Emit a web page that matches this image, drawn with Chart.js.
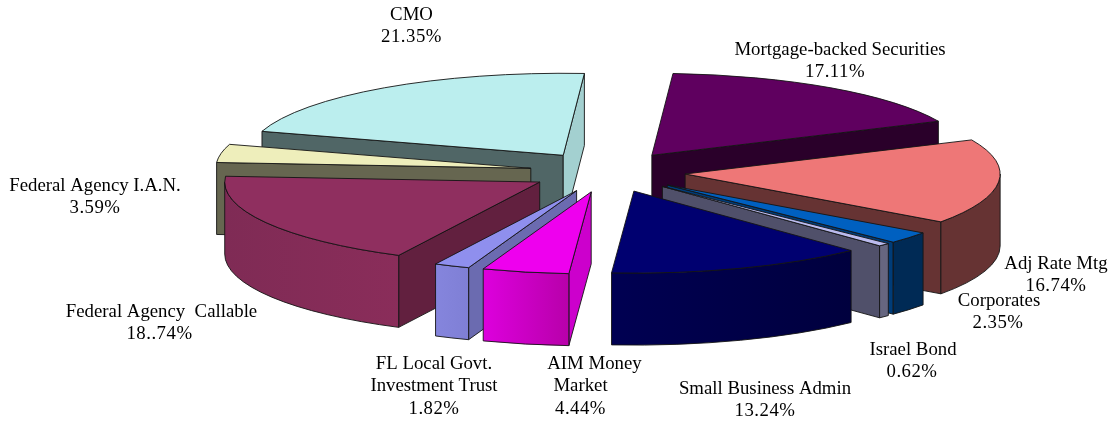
<!DOCTYPE html>
<html>
<head>
<meta charset="utf-8">
<style>
  html, body { margin: 0; padding: 0; background: #fff; }
  canvas { display: block; }
</style>
<script src="https://cdn.jsdelivr.net/npm/chart.js@4"></script>
</head>
<body>
<canvas id="myChart" width="1109" height="421"></canvas>
<script>
//!Data
var categories = ["Mortgage-backed Securities", "Adj Rate Mtg", "Corporates", "Israel Bond", "Small Business Admin",
  "AIM Money Market", "FL Local Govt. Investment Trust", "Federal Agency  Callable", "Federal Agency I.A.N.", "CMO"];
var shares = [17.11, 16.74, 2.35, 0.62, 13.24, 4.44, 1.82, 18.74, 3.59, 21.35];

var labelLines = [
  ["Mortgage-backed Securities", "17.11%"],
  ["Adj Rate Mtg", "16.74%"],
  ["Corporates", "2.35%"],
  ["Israel Bond", "0.62%"],
  ["Small Business Admin", "13.24%"],
  ["AIM Money", "Market", "4.44%"],
  ["FL Local Govt.", "Investment Trust", "1.82%"],
  ["Federal Agency  Callable", "18..74%"],
  ["Federal Agency I.A.N.", "3.59%"],
  ["CMO", "21.35%"]
];

//!Colours
var topColors = ["#5f005f", "#ee7777", "#0060c0", "#bbbbee", "#000070", "#ee00ee", "#8f8fee", "#8f2f5f", "#eeeebb", "#bbeeee"];
var startWallColors = ["#2a002a", "#663333", "#003c78", "#50506a", "#000048", "#cc00cc", "#6b6bb0", "#62203f", "#666650", "#506666"];
var endWallColors = ["#2a002a", "#663333", "#003c78", "#50506a", "#000048", "#cc00cc", "#6b6bb0", "#62203f", "#666650", "#a3d0d0"];
var outerLeftColors = ["#2a002a", "#663333", "#002a55", "#666680", "#000052", "#dd00dd", "#8585dd", "#7f2b55", "#666650", "#506666"];
var outerRightColors = ["#2a002a", "#663333", "#002a55", "#666680", "#00003e", "#b800aa", "#7f7fd5", "#8a2d5a", "#666650", "#506666"];

//!Layout
var squash = 82 / 315;
var depth = 72;
var explode = 78;
var labelCenters = [[840, 50], [1056, 264], [999, 301], [913, 350], [765, 389], [594.5, 364], [434, 364], [161.5, 312], [95, 186], [411.5, 15]];
// the source centres some lines off the first one
var lineShifts = [[0, -5], [0, 0], [0, -1], [0, -1], [0, 0], [0, -14, -14], [0, 0, 0], [0, -2], [0, 0], [0, 0]];
var lineHeight = 22.3;

function squashAround(ctx, cy) {
  ctx.translate(0, cy);
  ctx.scale(1, squash);
  ctx.translate(0, -cy);
}

function edgeStroke(ctx) {
  ctx.lineWidth = 0.9;
  ctx.lineJoin = "round";
  ctx.strokeStyle = "#141414";
  ctx.stroke();
}

function drawRadialWall(ctx, ax, ay, angle, r, cy, color) {
  ctx.save();
  squashAround(ctx, cy);
  var h = depth / squash;
  var ex = ax + Math.cos(angle) * r;
  var ey = ay + Math.sin(angle) * r;
  ctx.beginPath();
  ctx.moveTo(ax, ay);
  ctx.lineTo(ex, ey);
  ctx.lineTo(ex, ey + h);
  ctx.lineTo(ax, ay + h);
  ctx.closePath();
  ctx.restore();
  ctx.fillStyle = color;
  ctx.fill();
  edgeStroke(ctx);
}

function drawOuterWall(ctx, ax, ay, from, to, r, cy, colorA, colorB) {
  var a = Math.max(from, 0);
  var b = Math.min(to, Math.PI);
  if (b <= a) return;
  ctx.save();
  squashAround(ctx, cy);
  ctx.beginPath();
  ctx.arc(ax, ay, r, a, b);
  ctx.arc(ax, ay + depth / squash, r, b, a, true);
  ctx.closePath();
  ctx.restore();
  // clockwise on screen, so a is the right hand end of the lower rim
  var g = ctx.createLinearGradient(ax + Math.cos(b) * r, 0, ax + Math.cos(a) * r, 0);
  g.addColorStop(0, colorA);
  g.addColorStop(1, colorB);
  ctx.fillStyle = g;
  ctx.fill();
  edgeStroke(ctx);
}

function drawSlice(ctx, arc, i) {
  var start = arc.startAngle;
  var end = arc.endAngle;
  var mid = (start + end) / 2;
  var dx = Math.cos(mid) * explode;
  var dy = Math.sin(mid) * explode;
  var ax = arc.x + dx;
  var ay = arc.y + dy;
  var r = arc.outerRadius;

  // walls that face the viewer only
  if (Math.cos(start) < 0) drawRadialWall(ctx, ax, ay, start, r, arc.y, startWallColors[i]);
  if (Math.cos(end) > 0) drawRadialWall(ctx, ax, ay, end, r, arc.y, endWallColors[i]);
  drawOuterWall(ctx, ax, ay, start, end, r, arc.y, outerLeftColors[i], outerRightColors[i]);

  // top face comes from the library's own arc
  ctx.save();
  squashAround(ctx, arc.y);
  ctx.translate(dx, dy);
  arc.draw(ctx);
  ctx.restore();

  ctx.save();
  squashAround(ctx, arc.y);
  ctx.beginPath();
  ctx.moveTo(ax, ay);
  ctx.arc(ax, ay, r, start, end);
  ctx.closePath();
  ctx.restore();
  edgeStroke(ctx);
}

var piePlugin = {
  id: "tiltedPie",
  beforeDatasetDraw: function(chart, args) {
    var ctx = chart.ctx;
    var arcs = args.meta.data;
    var order = arcs.map(function(arc, i) { return i; });
    // back slices first
    order.sort(function(a, b) {
      return Math.sin((arcs[a].startAngle + arcs[a].endAngle) / 2) - Math.sin((arcs[b].startAngle + arcs[b].endAngle) / 2);
    });
    order.forEach(function(i) { drawSlice(ctx, arcs[i], i); });
    return false;
  },
  afterDraw: function(chart) {
    var ctx = chart.ctx;
    ctx.save();
    ctx.font = "18.8px 'Liberation Serif'";
    ctx.fillStyle = "#000";
    ctx.textAlign = "center";
    ctx.textBaseline = "middle";
    labelLines.forEach(function(lines, i) {
      lines.forEach(function(line, n) {
        // percent lines run a little wider in the source
        ctx.letterSpacing = line.indexOf("%") > -1 ? "0.5px" : "0px";
        ctx.fillText(line, labelCenters[i][0] + lineShifts[i][n], labelCenters[i][1] + n * lineHeight);
      });
    });
    ctx.restore();
  }
};

//!Chart
var ctx = document.getElementById("myChart").getContext("2d");
var myChart = new Chart(ctx, {
  type: "pie",
  data: {
    labels: categories,
    datasets: [
      {
        data: shares,
        backgroundColor: topColors,
        borderWidth: 0,
        clip: false
      }
    ]
  },
  options: {
    responsive: false,
    animation: false,
    events: [],
    rotation: 3.85,
    radius: 315,
    layout: { padding: { left: 106, bottom: 77 } },
    plugins: {
      legend: { display: false },
      tooltip: { enabled: false }
    }
  },
  plugins: [piePlugin]
});
</script>
</body>
</html>
